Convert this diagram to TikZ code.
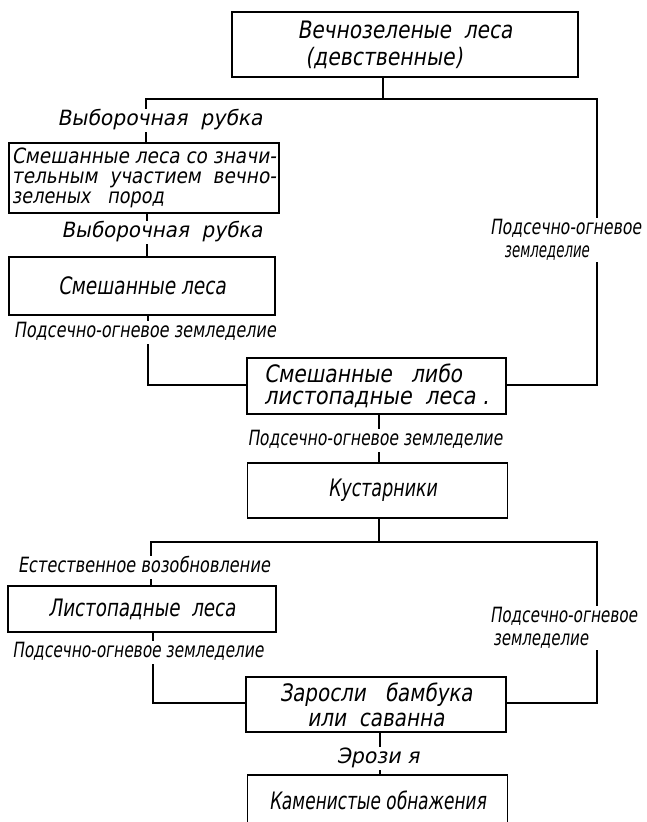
\documentclass[tikz,border=0pt]{standalone}
\usepackage{fontspec}
\usepackage{graphicx}
\newfontfamily\draftfont{DejaVu Sans}[FakeSlant=0.2]
\newcommand\fw[2]{\resizebox{#1pt}{\height}{#2}}
\lineskiplimit=-100pt
\tikzset{
  box/.style={draw, line width=1.6pt, inner sep=0pt,
    font=\draftfont\fontsize{24}{22}\selectfont},
  boxsmall/.style={box, font=\draftfont\fontsize{21}{20}\selectfont},
  lbl/.style={fill=white, inner sep=1pt, text height=16pt, text depth=5pt,
    font=\draftfont\fontsize{21}{21}\selectfont},
  lbltwo/.style={fill=white, inner sep=1pt, align=left, anchor=west,
    font=\draftfont\fontsize{21}{23}\selectfont},
  conn/.style={line width=1.6pt}
}
\begin{document}
\begin{tikzpicture}[x=1pt,y=-1pt]
\lineskiplimit=-100pt
\useasboundingbox (0,0) rectangle (646,822);
% boxes
\node[box, minimum width=346pt, minimum height=65pt, align=left] (top) at (405,44.5)
  {\fw{215}{Вечнозеленые\ \ леса}\\[5pt]\hspace*{8pt}\fw{157}{(девственные)}};
\node[boxsmall, minimum width=270pt, minimum height=70pt, align=left] (mix1) at (144,178)
  {\fw{264}{Смешанные леса со значи-}\\\fw{264}{тельным\ \ участием\ \ вечно-}\\\fw{152}{зеленых\ \ \ пород}};
\node[box, minimum width=266pt, minimum height=58pt] (mix2) at (142,286)
  {\fw{168}{Смешанные леса}};
\node[box, minimum width=259pt, minimum height=56pt, align=left] (mixdec) at (376.5,386)
  {\fw{198}{Смешанные\ \ \ либо}\\\fw{225}{листопадные\ \ леса .}};
\node[box, minimum width=260pt, minimum height=55pt] (shrub) at (377.5,490.5)
  {\hspace*{10pt}\fw{109}{Кустарники}};
\node[box, minimum width=268pt, minimum height=46pt] (dec) at (142,609)
  {\fw{187}{Листопадные\ \ леса}};
\node[box, minimum width=260pt, minimum height=55pt, align=center] (bamboo) at (376,704.5)
  {\fw{193}{Заросли\ \ \ бамбука}\\[3pt]\fw{137}{или\ \ саванна}};
\node[box, minimum width=260pt, minimum height=50pt] (rock) at (377.5,800)
  {\fw{217}{Каменистые обнажения}};
% junction coordinates
\coordinate (jT) at (383,99);
\coordinate (jTL) at (146,99);
\coordinate (jTR) at (597,99);
\coordinate (x147) at (147,0);
\coordinate (jL1) at (148,385);
\coordinate (jR1) at (597,385);
\coordinate (x379) at (379,0);
\coordinate (jM) at (379,542);
\coordinate (jML) at (151,542);
\coordinate (jMR) at (597,542);
\coordinate (jL2) at (153,703);
\coordinate (jR2) at (597,703);
\coordinate (x380) at (380,0);
% connectors
\draw[conn] (top.south -| jT) -- (jT);
\draw[conn] (mix1.north -| jTL) -- (jTL) -- (jTR) -- (jR1) -- (mixdec.east |- jR1);
\draw[conn] (mix1.south -| x147) -- (mix2.north -| x147);
\draw[conn] (mix2.south -| jL1) -- (jL1) -- (mixdec.west |- jL1);
\draw[conn] (mixdec.south -| x379) -- (shrub.north -| x379);
\draw[conn] (shrub.south -| jM) -- (jM);
\draw[conn] (dec.north -| jML) -- (jML) -- (jMR) -- (jR2) -- (bamboo.east |- jR2);
\draw[conn] (dec.south -| jL2) -- (jL2) -- (bamboo.west |- jL2);
\draw[conn] (bamboo.south -| x380) -- (rock.north -| x380);
% labels
\node[lbl] (c1) at (160,120) {\fw{205}{Выборочная\ \ рубка}};
\node[lbl] (c2) at (162,232) {\fw{201}{Выборочная\ \ рубка}};
\node[lbl] (c3) at (145,332) {\fw{262}{Подсечно-огневое земледелие}};
\node[lbltwo] (c4) at (489,240) {\fw{151}{Подсечно-огневое}\\\hspace*{14pt}\fw{85}{земледелие}};
\node[lbl] (c5) at (375,440) {\fw{255}{Подсечно-огневое земледелие}};
\node[lbl] (c6) at (144,567) {\fw{252}{Естественное возобновление}};
\node[lbl] (c7) at (138,652) {\fw{251}{Подсечно-огневое земледелие}};
\node[lbltwo] (c8) at (489,628) {\fw{147}{Подсечно-огневое}\\\hspace*{3pt}\fw{95}{земледелие}};
\node[lbl] (c9) at (378,758) {\fw{83}{Эрози\ я}};
\end{tikzpicture}
\end{document}
